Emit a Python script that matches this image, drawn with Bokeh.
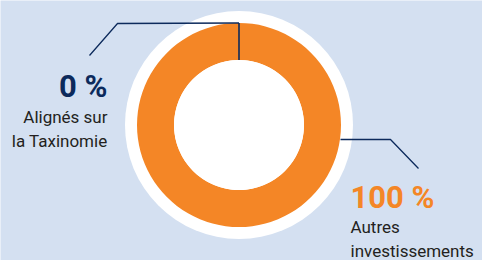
import math
from bokeh.plotting import figure
from bokeh.models import Range1d
from bokeh.core.properties import value
from bokeh.embed import file_html
from bokeh.resources import INLINE

# ---- data ----
categories = ["Alignés sur la Taxinomie", "Autres investissements"]
shares = [0, 100]
pct_labels = ["0 %", "100 %"]
label_lines = [["Alignés sur", "la Taxinomie"], ["Autres", "investissements"]]

BG = "#d4e0f1"
ORANGE = "#f48626"
NAVY = "#0c2a5c"
TEXT = "#231f20"

W, H = 482, 260
p = figure(width=W, height=H, output_backend="svg", toolbar_location=None,
           x_range=Range1d(0, W), y_range=Range1d(H, 0), min_border=0,
           background_fill_color=BG, border_fill_color=BG, outline_line_color=None)
p.axis.visible = False
p.grid.visible = False

cx, cy = 238.5, 124.5
r_white, r_out, r_in = 114, 102, 65

p.circle(x=[cx], y=[cy], radius=r_white, fill_color="white", line_color=None)

# wedges (clockwise from top)
total = sum(shares)
start = -math.pi / 2
starts, ends = [], []
a = start
for s in shares:
    starts.append(a)
    a += 2 * math.pi * s / total
    ends.append(a)
end1 = ends[1] if ends[1] - starts[1] < 2 * math.pi else starts[1] + 2 * math.pi - 1e-6
p.annular_wedge(x=cx, y=cy, inner_radius=r_in, outer_radius=r_out,
                start_angle=starts[1], end_angle=end1,
                fill_color=ORANGE, line_color=None)
p.circle(x=[cx], y=[cy], radius=r_in, fill_color="white", line_color=None)

# boundary of the 0 % slice
ang = starts[0]
p.segment(x0=[cx + r_in * math.cos(ang)], y0=[cy + r_in * math.sin(ang)],
          x1=[cx + r_out * math.cos(ang)], y1=[cy + r_out * math.sin(ang)],
          line_color=NAVY, line_width=1.6)

# leader lines
p.line(x=[cx, 117, 89], y=[cy - r_out, 23, 55], line_color=NAVY, line_width=1.3)
p.line(x=[340, 390, 418], y=[139, 139, 168], line_color=NAVY, line_width=1.3)

FONT = "Roboto"
p.text(x=[107], y=[86], text=[pct_labels[0]], text_align="right", text_baseline="alphabetic",
       text_font=value(FONT), text_font_style="bold", text_font_size="31px", text_color=NAVY)
p.text(x=[107, 107], y=[116, 140], text=label_lines[0], text_align="right", text_baseline="alphabetic",
       text_font=value(FONT), text_font_size="17px", text_color=TEXT)
p.text(x=[350], y=[197], text=[pct_labels[1]], text_align="left", text_baseline="alphabetic",
       text_font=value(FONT), text_font_style="bold", text_font_size="31px", text_color=ORANGE)
p.text(x=[350, 350], y=[226, 250], text=label_lines[1], text_align="left", text_baseline="alphabetic",
       text_font=value(FONT), text_font_size="17px", text_color=TEXT)

open("out.html", "w").write(file_html(p, INLINE))
